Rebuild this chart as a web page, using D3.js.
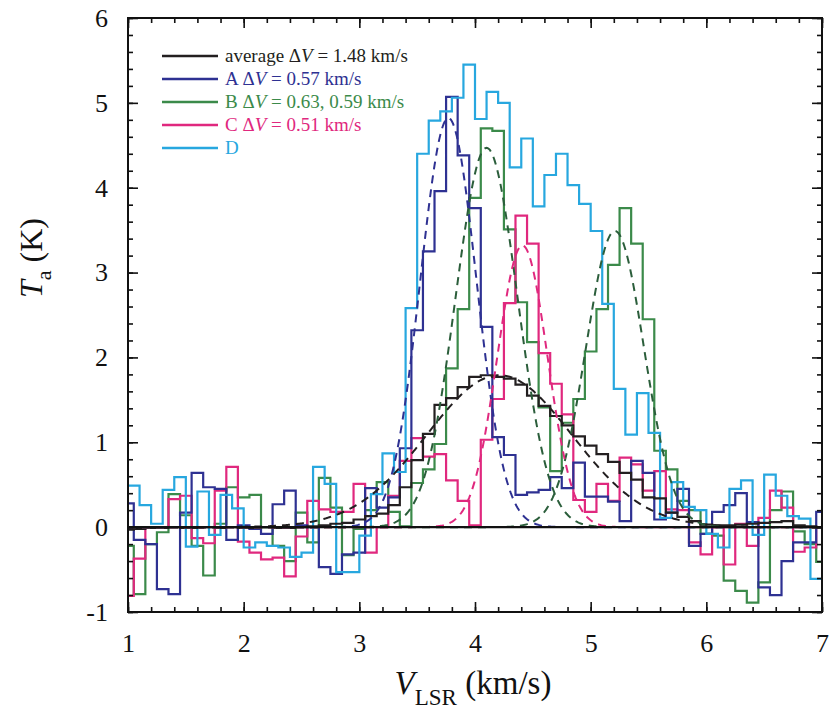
<!DOCTYPE html>
<html>
<head>
<meta charset="utf-8">
<title>Spectra A-D</title>
<style>
  body { margin: 0; background: #fff; }
  svg { display: block; }
  svg text, svg tspan { font-family: "Liberation Serif", "Times New Roman", serif !important; }
  .axis text { font-size: 26px; fill: #111; }
  .axis line { stroke: #111; stroke-width: 1.6; }
  .legend text { font-size: 19px; }
</style>
</head>
<body>
<svg id="canvas" width="830" height="724"></svg>
<script src="https://d3js.org/d3.v7.min.js"></script>
<script>
// channel centres (km/s); cyan D sits on a grid offset by half a channel
const chanW = 0.1;
const vel = d3.range(61).map(i => +(1.0 + i * chanW).toFixed(2));
const velD = d3.range(60).map(i => +(1.05 + i * chanW).toFixed(2));

const avgT = [-0.03, -0.02, -0.01, -0.01, 0.0, -0.01, -0.01, 0.0, -0.01, 0.0,
  -0.01, -0.01, 0.0, -0.01, -0.01, 0.0, 0.01, 0.02, 0.04, 0.05,
  0.09, 0.13, 0.16, 0.26, 0.47, 0.79, 1.10, 1.44, 1.52, 1.65,
  1.77, 1.79, 1.77, 1.75, 1.68, 1.55, 1.43, 1.31, 1.20, 1.07,
  0.96, 0.86, 0.77, 0.64, 0.56, 0.35, 0.34, 0.17, 0.12, 0.07,
  0.03, 0.02, 0.02, 0.03, 0.04, 0.05, 0.06, 0.07, 0.02, 0.01, 0.0];

const aT = [0.28, -0.15, -0.20, -0.73, -0.79, 0.17, 0.64, 0.47, 0.45, -0.15,
  0.02, -0.02, -0.08, 0.27, 0.43, 0.02, 0.0, -0.47, -0.55, -0.32,
  -0.30, 0.46, 0.23, 0.35, 0.93, 2.32, 3.25, 3.96, 5.07, 4.38,
  3.76, 2.36, 1.06, 0.85, 0.38, 0.41, 0.44, 0.59, 0.46, 0.76,
  0.36, 0.36, 0.30, 0.07, 0.78, 0.64, 0.09, 0.17, 0.45, -0.22,
  -0.08, 0.18, 0.26, 0.40, 0.06, -0.71, -0.80, -0.40, -0.18, -0.18, 0.18];

const bT = [-0.22, -0.79, -0.20, -0.06, 0.39, 0.14, -0.22, -0.57, 0.04, 0.47,
  0.35, 0.38, 0.0, -0.22, -0.40, 0.17, -0.18, 0.58, 0.23, -0.33,
  -0.02, 0.20, 0.53, 0.18, 0.01, 0.52, 0.68, 0.98, 1.87, 2.57,
  3.88, 4.70, 4.67, 3.51, 2.65, 2.18, 1.41, 0.66, 1.23, 1.51,
  2.07, 2.57, 3.09, 3.76, 3.34, 2.45, 0.90, 0.68, 0.31, 0.20,
  -0.08, -0.10, -0.63, -0.75, -0.89, -0.65, 0.20, 0.42, -0.05, -0.20, -0.41];

const cT = [-0.81, -0.37, 0.0, 0.0, 0.33, 0.37, -0.13, -0.19, 0.43, 0.71,
  -0.17, -0.30, -0.38, -0.36, -0.58, -0.11, 0.31, 0.21, 0.18, 0.18,
  0.51, -0.30, 0.0, 0.37, 0.78, 1.05, 0.83, 0.86, 0.55, 0.31,
  0.02, 1.03, 1.51, 2.64, 3.67, 3.34, 2.05, 1.69, 1.33, 0.32,
  0.18, 0.51, 0.31, 0.82, 0.74, 0.43, 0.66, 0.21, 0.20, -0.18,
  -0.32, 0.0, -0.44, 0.04, -0.22, 0.11, 0.43, 0.23, -0.29, -0.24, 0.0];

const dT = [0.49, 0.26, 0.04, 0.44, 0.59, -0.23, 0.42, -0.09, 0.38, 0.22,
  -0.24, -0.18, -0.22, -0.24, -0.35, -0.30, 0.71, 0.51, -0.53, -0.53,
  -0.10, 0.39, 0.87, 0.65, 2.58, 4.40, 4.79, 4.90, 5.06, 5.45,
  4.81, 5.13, 5.00, 4.24, 4.58, 3.78, 4.15, 4.40, 4.03, 3.81,
  3.49, 2.63, 1.63, 1.09, 1.58, 1.11, 0.11, 0.53, 0.24, 0.20,
  -0.08, -0.24, 0.45, 0.55, -0.09, 0.62, 0.37, 0.13, 0.10, -0.61];

// gaussian fits: peak (K), centre (km/s), FWHM (km/s)
const fitPeak = [1.79, 4.82, 4.47, 3.49, 3.32];
const fitCentre = [4.21, 3.77, 4.10, 5.21, 4.41];
const fitFwhm = [1.48, 0.57, 0.63, 0.59, 0.51];
const fitColor = ["#231f20", "#2e3192", "#2b5e3b", "#2b5e3b", "#e0287e"];

const legendLabels = [
  ["average Δ", "V", " = 1.48 km/s"],
  ["A Δ", "V", " = 0.57 km/s"],
  ["B Δ", "V", " = 0.63, 0.59 km/s"],
  ["C Δ", "V", " = 0.51 km/s"],
  ["D", "", ""]
];

const series = [
  { v: bT, ch: vel, color: "#3b8a4a" },
  { v: cT, ch: vel, color: "#e0287e" },
  { v: aT, ch: vel, color: "#2e3192" },
  { v: dT, ch: velD, color: "#27a7df" },
  { v: avgT, ch: vel, color: "#231f20" }
];
const legendColors = ["#231f20", "#2e3192", "#3b8a4a", "#e0287e", "#27a7df"];

const box = { left: 128, right: 822, top: 18, bottom: 612 };
const x = d3.scaleLinear().domain([1, 7]).range([box.left, box.right]);
const y = d3.scaleLinear().domain([-1, 6]).range([box.bottom, box.top]);

const svg = d3.select("#canvas");

svg.append("clipPath").attr("id", "plotclip")
  .append("rect")
  .attr("x", box.left).attr("y", box.top)
  .attr("width", box.right - box.left).attr("height", box.bottom - box.top);

const plot = svg.append("g").attr("clip-path", "url(#plotclip)");

const stepLine = d3.line().x(p => x(p[0])).y(p => y(p[1])).curve(d3.curveStepAfter);

series.forEach(s => {
  const pts = s.ch.map((c, i) => [c - chanW / 2, s.v[i]]);
  pts.push([s.ch[s.ch.length - 1] + chanW / 2, s.v[s.v.length - 1]]);
  plot.append("path")
    .attr("d", stepLine(pts))
    .attr("fill", "none")
    .attr("stroke", s.color)
    .attr("stroke-width", 2.2)
    .attr("stroke-linejoin", "miter");
});

// fitted profiles
const fitV = d3.range(1, 7.001, 0.01);
const smooth = d3.line().x(p => x(p[0])).y(p => y(p[1]));
fitPeak.forEach((a, i) => {
  const pts = fitV.map(v => [v, a * Math.exp(-4 * Math.LN2 * Math.pow((v - fitCentre[i]) / fitFwhm[i], 2))]);
  plot.append("path")
    .attr("d", smooth(pts))
    .attr("fill", "none")
    .attr("stroke", fitColor[i])
    .attr("stroke-width", 2)
    .attr("stroke-dasharray", "8,6");
});

// zero line
plot.append("line")
  .attr("x1", x(1)).attr("x2", x(7))
  .attr("y1", y(0)).attr("y2", y(0))
  .attr("stroke", "#111").attr("stroke-width", 2.4);

// axes with inward ticks
const xMajor = d3.range(1, 7.01, 1);
const xMinor = d3.range(1, 7.01, 0.2);
const yMajor = d3.range(-1, 6.01, 1);
const yMinor = d3.range(-1, 6.01, 0.2);

function addAxis(axis, tr, cls) {
  const g = svg.append("g").attr("class", "axis " + cls).attr("transform", tr).call(axis);
  g.select(".domain").remove();
  return g;
}

addAxis(d3.axisBottom(x).tickValues(xMinor).tickSize(-5).tickFormat(""), `translate(0,${box.bottom})`, "minor");
addAxis(d3.axisTop(x).tickValues(xMinor).tickSize(-5).tickFormat(""), `translate(0,${box.top})`, "minor");
addAxis(d3.axisLeft(y).tickValues(yMinor).tickSize(-5).tickFormat(""), `translate(${box.left},0)`, "minor");
addAxis(d3.axisRight(y).tickValues(yMinor).tickSize(-5).tickFormat(""), `translate(${box.right},0)`, "minor");

addAxis(d3.axisBottom(x).tickValues(xMajor).tickSize(-10).tickPadding(22).tickFormat(d3.format("d")),
  `translate(0,${box.bottom})`, "major");
addAxis(d3.axisTop(x).tickValues(xMajor).tickSize(-10).tickFormat(""), `translate(0,${box.top})`, "major");
addAxis(d3.axisLeft(y).tickValues(yMajor).tickSize(-10).tickPadding(20).tickFormat(d => d < 0 ? "-" + Math.abs(d) : d),
  `translate(${box.left},0)`, "major");
addAxis(d3.axisRight(y).tickValues(yMajor).tickSize(-10).tickFormat(""), `translate(${box.right},0)`, "major");

svg.append("rect")
  .attr("x", box.left).attr("y", box.top)
  .attr("width", box.right - box.left).attr("height", box.bottom - box.top)
  .attr("fill", "none").attr("stroke", "#111").attr("stroke-width", 2);

// axis titles
const xt = svg.append("text")
  .attr("x", 473).attr("y", 694)
  .attr("text-anchor", "middle")
  .attr("font-size", 33).attr("fill", "#111");
xt.append("tspan").attr("font-style", "italic").text("V");
xt.append("tspan").attr("font-size", 23).attr("dy", 11).text("LSR");
xt.append("tspan").attr("dy", -11).text(" (km/s)");

const yt = svg.append("text")
  .attr("transform", "translate(42,258) rotate(-90)")
  .attr("text-anchor", "middle")
  .attr("font-size", 32).attr("fill", "#111");
yt.append("tspan").attr("font-style", "italic").text("T");
yt.append("tspan").attr("font-size", 22).attr("dy", 9).text("a");
yt.append("tspan").attr("dy", -9).text(" (K)");

// legend
const lg = svg.append("g").attr("class", "legend");
const rowY = d3.scaleLinear().domain([0, 4]).range([56, 148]);
legendLabels.forEach((lab, i) => {
  const yy = rowY(i);
  lg.append("line")
    .attr("x1", 162).attr("x2", 218).attr("y1", yy).attr("y2", yy)
    .attr("stroke", legendColors[i]).attr("stroke-width", 2.5);
  const t = lg.append("text").attr("x", 225).attr("y", yy + 6).attr("fill", legendColors[i]);
  t.append("tspan").text(lab[0]);
  t.append("tspan").attr("font-style", "italic").text(lab[1]);
  t.append("tspan").text(lab[2]);
});
</script>
</body>
</html>
